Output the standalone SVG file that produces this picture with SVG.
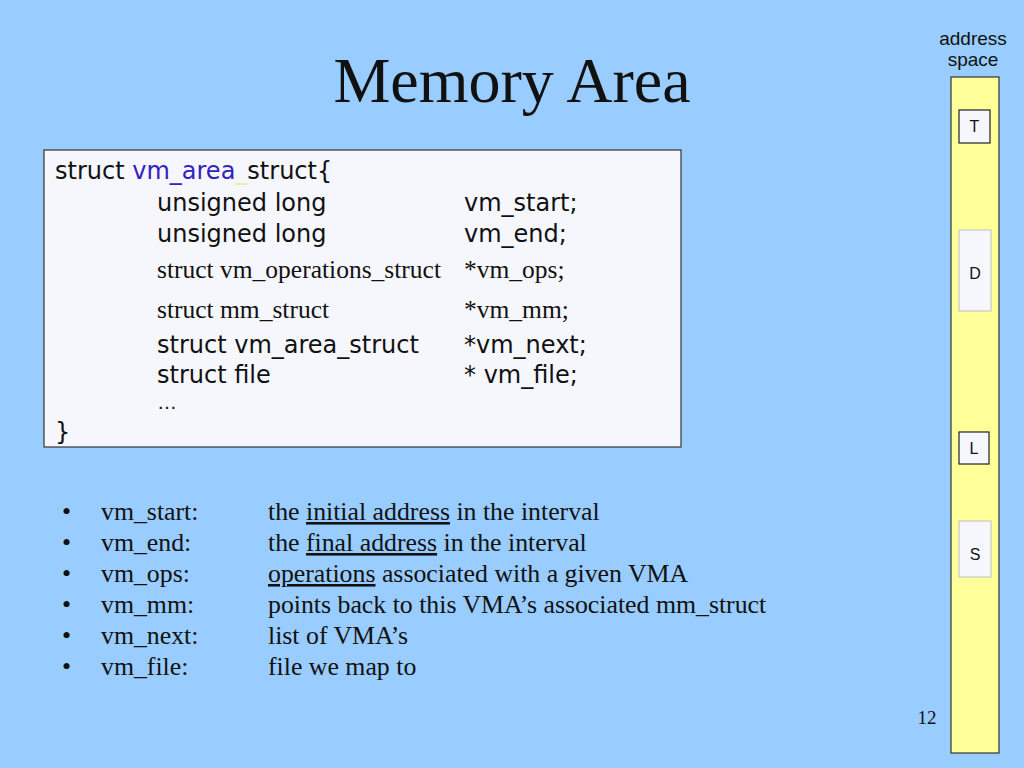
<svg xmlns="http://www.w3.org/2000/svg" width="1024" height="768" viewBox="0 0 1024 768">
<style>
.sans{font-family:"DejaVu Sans","Liberation Sans",sans-serif;font-size:24px;fill:#111}
.ser{font-family:"Liberation Serif","Times New Roman",serif;fill:#111}
.code-s{font-size:25.5px}
.bul{font-size:25.8px}
.lbl{font-family:"Liberation Sans",Arial,sans-serif;fill:#111}
.seg{fill:#F5F7FD}
.dark{stroke:#222;stroke-width:1.2}
.light{stroke:#C8C8C8;stroke-width:1.2}
.u{text-decoration:underline}
</style>
<rect x="0" y="0" width="1024" height="768" fill="#99CCFF"/>

<g id="title">
<text class="ser" x="512" y="102" font-size="64" text-anchor="middle">Memory Area</text>
</g>

<g id="struct-box">
<rect x="44" y="150" width="637" height="297" fill="#F5F7FC" stroke="#333" stroke-width="1.2"/>
<text class="sans" x="55" y="179">struct <tspan fill="#3322BB">vm_area</tspan><tspan fill="#EEE8AA">_</tspan>struct{</text>
<text class="sans" x="157" y="211">unsigned long</text>
<text class="sans" x="464" y="211">vm_start;</text>
<text class="sans" x="157" y="242">unsigned long</text>
<text class="sans" x="464" y="242">vm_end;</text>
<text class="ser code-s" x="157" y="278">struct vm_operations_struct</text>
<text class="ser code-s" x="464" y="278">*vm_ops;</text>
<text class="ser code-s" x="157" y="318">struct mm_struct</text>
<text class="ser code-s" x="464" y="318">*vm_mm;</text>
<text class="sans" x="157" y="353">struct vm_area_struct</text>
<text class="sans" x="464" y="353">*vm_next;</text>
<text class="sans" x="157" y="383">struct file</text>
<text class="sans" x="464" y="383">* vm_file;</text>
<text class="lbl" x="157" y="409" font-size="20" letter-spacing="1">…</text>
<text class="sans" x="55" y="440">}</text>
</g>

<g id="bullets" class="ser bul">
<text x="62" y="520">•</text><text x="101" y="520">vm_start:</text>
<text x="268" y="520">the <tspan class="u">initial address</tspan> in the interval</text>
<text x="62" y="551">•</text><text x="101" y="551">vm_end:</text>
<text x="268" y="551">the <tspan class="u">final address</tspan> in the interval</text>
<text x="62" y="582">•</text><text x="101" y="582">vm_ops:</text>
<text x="268" y="582"><tspan class="u">operations</tspan> associated  with a given VMA</text>
<text x="62" y="613">•</text><text x="101" y="613">vm_mm:</text>
<text x="268" y="613">points back to this VMA’s associated mm_struct</text>
<text x="62" y="644">•</text><text x="101" y="644">vm_next:</text>
<text x="268" y="644">list of VMA’s</text>
<text x="62" y="675">•</text><text x="101" y="675">vm_file:</text>
<text x="268" y="675">file we map to</text>
</g>

<g id="address-space">
<text class="lbl" x="973" y="45" font-size="19" text-anchor="middle">address</text>
<text class="lbl" x="973" y="66" font-size="19" text-anchor="middle">space</text>
<rect x="951" y="77" width="48" height="676" fill="#FFFF99" stroke="#333" stroke-width="1.2"/>
</g>

<g id="seg-T">
<rect class="seg dark" x="959" y="110" width="31" height="33"/>
<text class="lbl" x="974.5" y="132" font-size="16" text-anchor="middle">T</text>
</g>
<g id="seg-D">
<rect class="seg light" x="959" y="230" width="32" height="81"/>
<text class="lbl" x="975" y="279" font-size="16" text-anchor="middle">D</text>
</g>
<g id="seg-L">
<rect class="seg dark" x="959" y="432" width="30" height="32"/>
<text class="lbl" x="974" y="454" font-size="16" text-anchor="middle">L</text>
</g>
<g id="seg-S">
<rect class="seg light" x="959" y="521" width="32" height="56"/>
<text class="lbl" x="975" y="560" font-size="16" text-anchor="middle">S</text>
</g>

<g id="page-number">
<text class="ser" x="927" y="724" font-size="19" text-anchor="middle">12</text>
</g>
<g id="connectors"/>
</svg>
